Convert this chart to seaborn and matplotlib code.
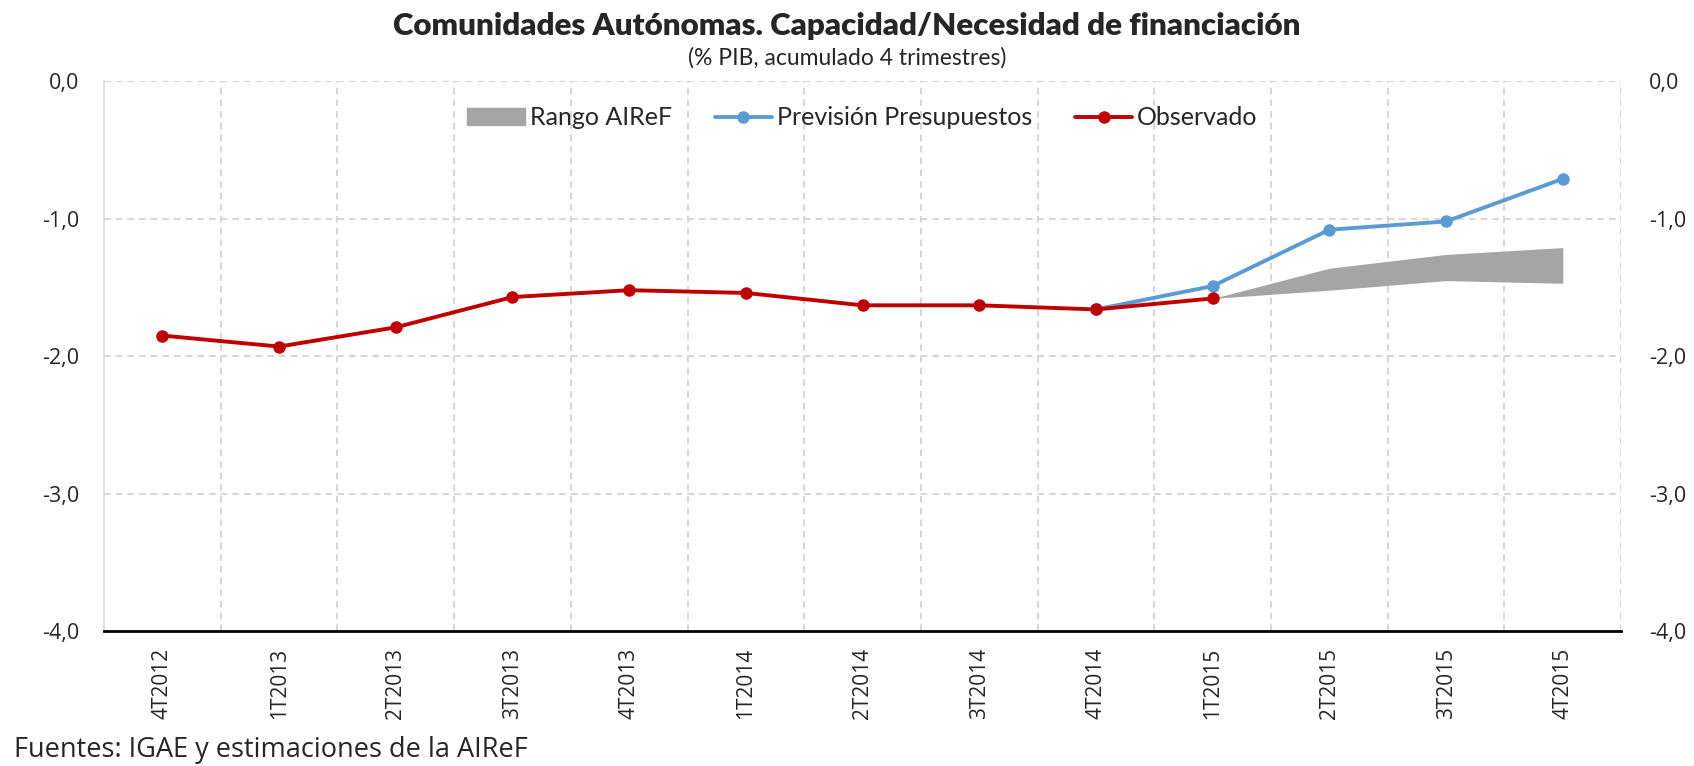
"""Comunidades Autónomas: capacidad/necesidad de financiación (% PIB)."""

import matplotlib
matplotlib.use("Agg")
import matplotlib.pyplot as plt
import matplotlib.patches as mpatches
from matplotlib.lines import Line2D
import seaborn as sns
import pandas as pd
import numpy as np

quarters = ["4T2012", "1T2013", "2T2013", "3T2013", "4T2013", "1T2014", "2T2014",
            "3T2014", "4T2014", "1T2015", "2T2015", "3T2015", "4T2015"]
observado = [-1.85, -1.93, -1.79, -1.57, -1.52, -1.54, -1.63, -1.63, -1.66, -1.58]
prevision_quarters = ["4T2014", "1T2015", "2T2015", "3T2015", "4T2015"]
prevision = [-1.66, -1.49, -1.08, -1.02, -0.71]
rango_quarters = ["1T2015", "2T2015", "3T2015", "4T2015"]
rango_low = [-1.58, -1.52, -1.45, -1.47]
rango_high = [-1.58, -1.36, -1.26, -1.21]
y_ticks = [0.0, -1.0, -2.0, -3.0, -4.0]

RED = "#C00000"
BLUE = "#5B9BD5"
GRAY = "#A5A5A5"
FONT = ["Lato", "DejaVu Sans"]
TICKFONT = ["Open Sans", "DejaVu Sans"]

sns.set_style("white")
plt.rcParams["font.family"] = FONT

pos = {q: i for i, q in enumerate(quarters)}
obs_df = pd.DataFrame({"x": [pos[q] for q in quarters[:len(observado)]], "y": observado})
prev_df = pd.DataFrame({"x": [pos[q] for q in prevision_quarters], "y": prevision})
rango_x = [pos[q] for q in rango_quarters]

fig = plt.figure(figsize=(16.94, 7.66), dpi=100)
ax = fig.add_axes([0.0614, 0.176, 0.8956, 0.718])

ax.fill_between(rango_x, rango_low, rango_high, color=GRAY, linewidth=0, zorder=2)
sns.lineplot(data=prev_df, x="x", y="y", ax=ax, color=BLUE, linewidth=2.8,
             marker="o", markersize=9, markeredgewidth=0, zorder=3)
sns.lineplot(data=obs_df, x="x", y="y", ax=ax, color=RED, linewidth=2.8,
             marker="o", markersize=9, markeredgewidth=0, zorder=4)

ax.set_xlim(-0.5, len(quarters) - 0.5)
ax.set_ylim(-4.0, 0.0)
ax.set_xlabel("")
ax.set_ylabel("")

# dashed gridlines: horizontal at ticks, vertical at category boundaries
for yv in y_ticks[:-1]:
    ax.axhline(yv, color="#D0D0D0", linestyle=(0, (4, 3)), linewidth=1.2, zorder=1)
for xb in np.arange(0.5, len(quarters) + 0.5, 1.0):
    ax.axvline(xb, color="#D0D0D0", linestyle=(0, (4, 3)), linewidth=1.2, zorder=1)

ax.set_xticks(range(len(quarters)))
ax.set_xticklabels(quarters, rotation=90, fontsize=15, family=TICKFONT)
ax.tick_params(axis="x", length=0, pad=12)
ax.set_yticks(y_ticks)
ax.set_yticklabels([f"{v:.1f}".replace(".", ",") for v in y_ticks], fontsize=15.5, family=TICKFONT)
ax.tick_params(axis="y", length=0, pad=18)

for side in ["top", "right"]:
    ax.spines[side].set_visible(False)
ax.spines["left"].set_color("#D9D9D9")
ax.spines["left"].set_linewidth(1.2)
ax.spines["bottom"].set_color("black")
ax.spines["bottom"].set_linewidth(2)

ax2 = ax.twinx()
ax2.set_ylim(ax.get_ylim())
ax2.set_yticks(y_ticks)
ax2.set_yticklabels([f"{v:.1f}".replace(".", ",") for v in y_ticks], fontsize=15.5, family=TICKFONT)
ax2.tick_params(axis="y", length=0, pad=20)
for side in ax2.spines:
    ax2.spines[side].set_visible(False)

handles = [
    mpatches.Patch(color=GRAY, label="Rango AIReF"),
    Line2D([], [], color=BLUE, linewidth=2.8, marker="o", markersize=8, label="Previsión Presupuestos"),
    Line2D([], [], color=RED, linewidth=2.8, marker="o", markersize=8, label="Observado"),
]
ax.legend(handles=handles, loc="upper center", bbox_to_anchor=(0.5, 0.995), ncol=3,
          frameon=False, fontsize=18, handlelength=2.3, handletextpad=0.2, columnspacing=1.7)

fig.text(0.5, 0.966, "Comunidades Autónomas. Capacidad/Necesidad de financiación",
         ha="center", va="center", fontsize=22.5, fontweight="heavy")
fig.text(0.5, 0.924, "(% PIB, acumulado 4 trimestres)", ha="center", va="center", fontsize=16.5)
fig.text(0.008, 0.003, "Fuentes: IGAE y estimaciones de la AIReF", ha="left", va="bottom",
         fontsize=19.5, family=TICKFONT)

fig.savefig("out.png", dpi=100)
plt.close(fig)
